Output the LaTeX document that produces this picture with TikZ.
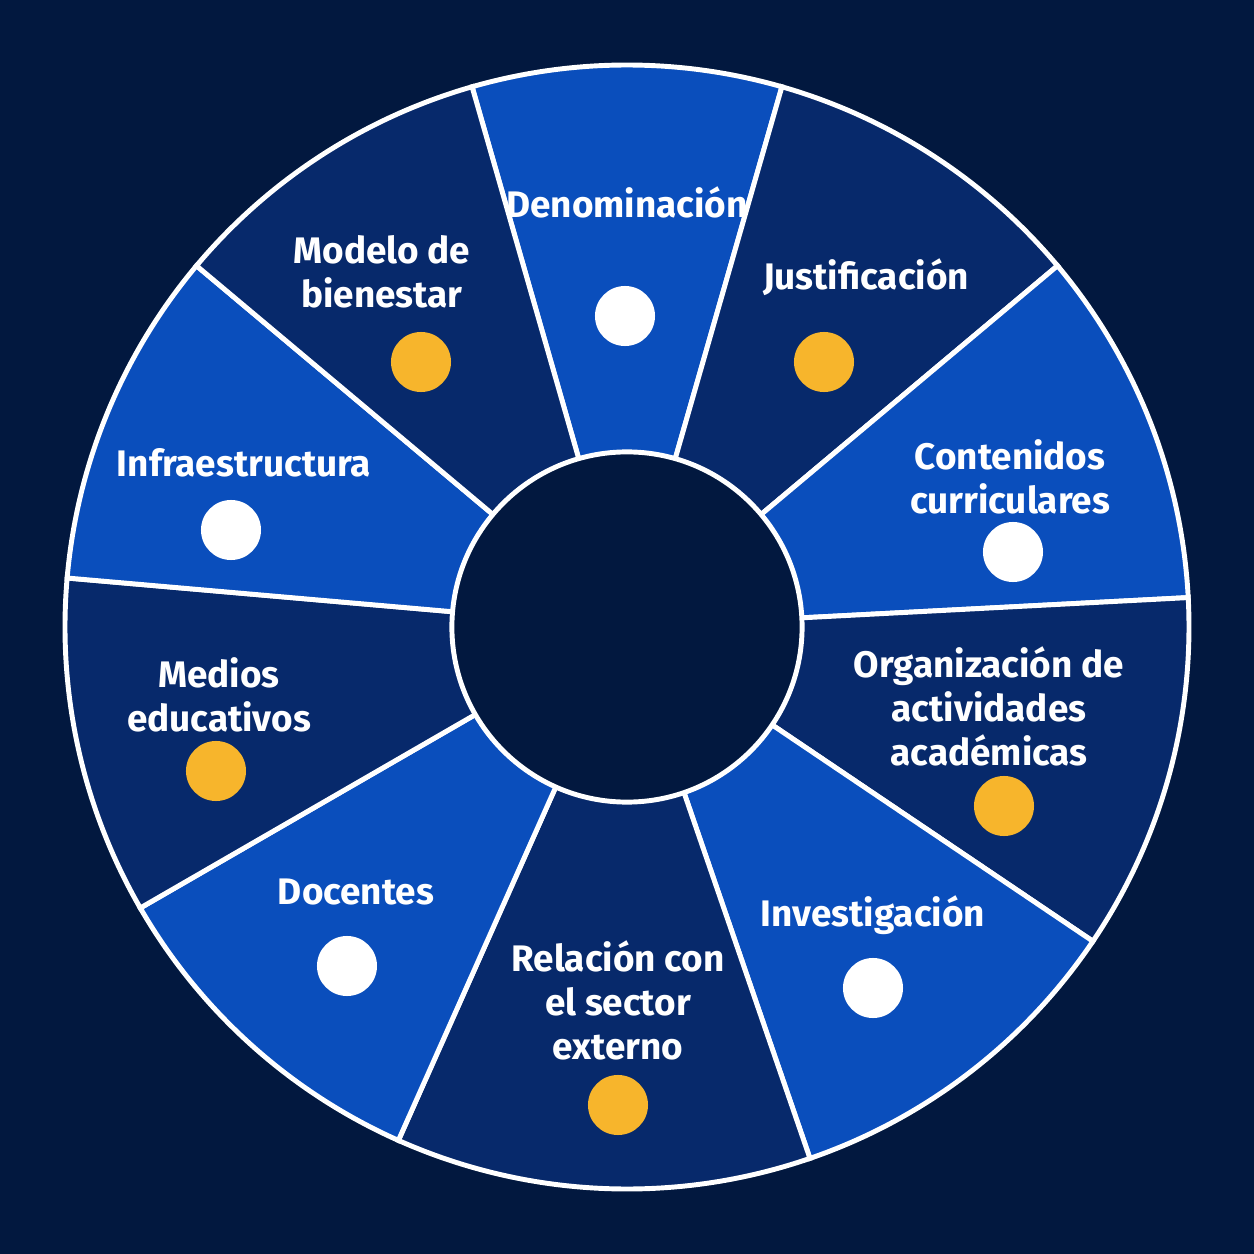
\documentclass[tikz,border=0pt]{standalone}
\usepackage{fontspec}
\setmainfont{Fira Sans}
\definecolor{navy}{HTML}{02183F}
\definecolor{brightblue}{HTML}{0A4EBC}
\definecolor{darkblue}{HTML}{07296B}
\definecolor{gold}{HTML}{F7B52C}
\tikzset{
  seglabel/.style = {text=white, font=\fontsize{10.5}{12.5}\selectfont\bfseries, align=center},
  segline/.style = {draw=white, line width=1.4pt},
  wdot/.style = {circle, fill=white, minimum size=0.6cm, inner sep=0pt},
  ydot/.style = {circle, fill=gold, minimum size=0.6cm, inner sep=0pt}
}
\begin{document}
\begin{tikzpicture}[x=0.01cm, y=0.01cm]
\fill[navy] (-627,-627) rectangle (627,627);
\useasboundingbox (-627,-627) rectangle (627,627);
\coordinate (c) at (0,0);

% wedges
\foreach \a/\b/\col in {74/106/brightblue, 40/74/darkblue, 3/40/brightblue,
  -34/3/darkblue, -71/-34/brightblue, -114/-71/darkblue, -150/-114/brightblue,
  -185/-150/darkblue, -220/-185/brightblue, -254/-220/darkblue}
  \filldraw[fill=\col, segline] (c) -- (\a:562) arc[start angle=\a, end angle=\b, radius=562] -- cycle;

\node[circle, fill=navy, draw=white, line width=1.4pt, minimum size=3.5cm] (hub) at (c) {};

% labels
\node[seglabel] (den) at (0,425) {Denominación};
\node[seglabel] (jus) at (239,350) {Justificación};
\node[seglabel] (con) at (383,150) {Contenidos\\curriculares};
\node[seglabel] (org) at (362,-79) {Organización de\\actividades\\académicas};
\node[seglabel] (inv) at (246,-288) {Investigación};
\node[seglabel] (rel) at (-9,-373) {Relación con\\el sector\\externo};
\node[seglabel] (doc) at (-271,-265) {Docentes};
\node[seglabel] (med) at (-408,-68) {Medios\\educativos};
\node[seglabel] (inf) at (-383,164) {Infraestructura};
\node[seglabel] (mod) at (-245,355) {Modelo de\\bienestar};

% dots
\node[wdot] (dden) at (-2,311) {};
\node[ydot] (djus) at (197,265) {};
\node[wdot] (dcon) at (386,75) {};
\node[ydot] (dorg) at (377,-179) {};
\node[wdot] (dinv) at (246,-361) {};
\node[ydot] (drel) at (-9,-478) {};
\node[wdot] (ddoc) at (-280,-339) {};
\node[ydot] (dmed) at (-411,-144) {};
\node[wdot] (dinf) at (-396,97) {};
\node[ydot] (dmod) at (-206,265) {};
\end{tikzpicture}
\end{document}
